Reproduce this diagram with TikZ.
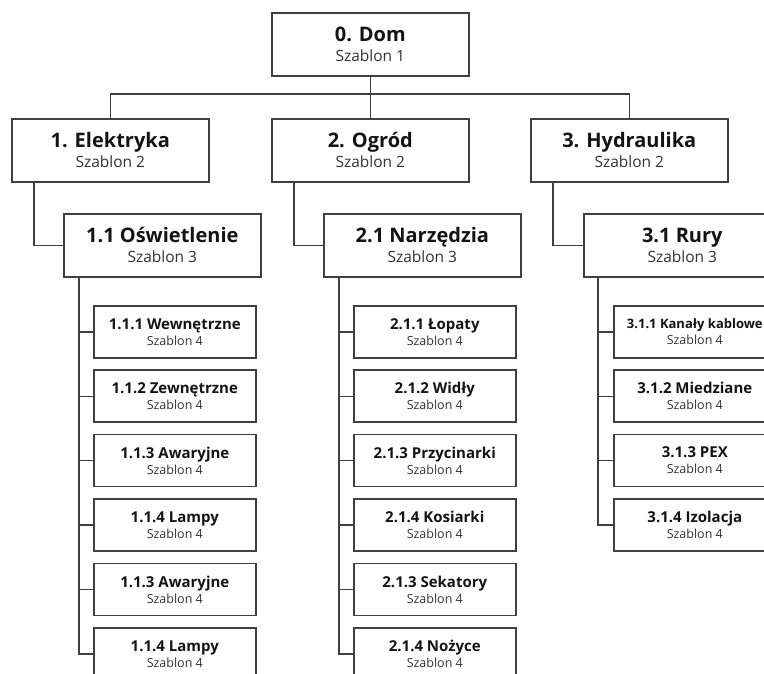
\documentclass[tikz,border=0pt]{standalone}
\usepackage{fontspec}
\setmainfont{Open Sans}
\tikzset{
  bigbox/.style={draw=black!75, line width=1.6pt, fill=white, anchor=north west,
    minimum width=197pt, minimum height=63pt, inner sep=0pt, align=center,
    font=\fontsize{15.5}{20}\selectfont},
  smallbox/.style={draw=black!75, line width=1.6pt, fill=white, anchor=north west,
    minimum width=162pt, minimum height=52pt, inner ysep=0pt, inner xsep=4pt, align=center,
    font=\fontsize{12.5}{16}\selectfont},
  link/.style={draw=black!75, line width=1.4pt},
}
\newcommand{\bigtxt}[2]{{\fontsize{20}{20}\selectfont\bfseries\color{black!92}#1}\\{\color{black!80}#2}}
\newcommand{\smalltxt}[2]{{\fontsize{15}{16}\selectfont\bfseries\color{black!92}#1}\\{\color{black!80}#2}}
\begin{document}
\begin{tikzpicture}[x=1pt, y=-1pt]
  \clip (0,0) rectangle (764,673);
  \fill[white] (0,0) rectangle (764,673);
  % levels 0 and 1
  \node[bigbox] (dom) at (271,12) {\bigtxt{0. Dom}{Szablon 1}};
  \node[bigbox] (elek) at (11,118) {\bigtxt{1. Elektryka}{Szablon 2}};
  \node[bigbox] (ogrod) at (271,118) {\bigtxt{2. Ogród}{Szablon 2}};
  \node[bigbox] (hydr) at (530,118) {\bigtxt{3. Hydraulika}{Szablon 2}};
  % level 2
  \node[bigbox] (osw) at (63,213) {\bigtxt{1.1 Oświetlenie}{Szablon 3}};
  \node[bigbox] (narz) at (323,213) {\bigtxt{2.1 Narzędzia}{Szablon 3}};
  \node[bigbox] (rury) at (583,213) {\bigtxt{3.1 Rury}{Szablon 3}};
  % level 3
  \foreach \txt [count=\i] in {1.1.1 Wewnętrzne, 1.1.2 Zewnętrzne, 1.1.3 Awaryjne,
      1.1.4 Lampy, 1.1.3 Awaryjne, 1.1.4 Lampy}
    \node[smallbox] (e\i) at (93,{305+64.4*(\i-1)}) {\smalltxt{\txt}{Szablon 4}};
  \foreach \txt [count=\i] in {2.1.1 Łopaty, 2.1.2 Widły, 2.1.3 Przycinarki,
      2.1.4 Kosiarki, 2.1.3 Sekatory, 2.1.4 Nożyce}
    \node[smallbox] (o\i) at (353,{305+64.4*(\i-1)}) {\smalltxt{\txt}{Szablon 4}};
  \foreach \txt [count=\i] in {{\fontsize{13}{16}\selectfont 3.1.1 Kanały kablowe},
      3.1.2 Miedziane, 3.1.3 PEX, 3.1.4 Izolacja}
    \node[smallbox] (h\i) at (613,{305+64.4*(\i-1)}) {\smalltxt{\txt}{Szablon 4}};
  % connectors
  \coordinate (top) at (369,94);
  \draw[link] (dom.south) -- (ogrod.north);
  \draw[link] (elek.north) |- (top) -| (hydr.north);
  \draw[link] ([xshift=23pt]elek.south west) |- (osw.west);
  \draw[link] ([xshift=23pt]ogrod.south west) |- (narz.west);
  \draw[link] ([xshift=23pt]hydr.south west) |- (rury.west);
  \coordinate (ebus) at ([xshift=16pt]osw.south west);
  \coordinate (obus) at ([xshift=16pt]narz.south west);
  \coordinate (hbus) at ([xshift=15pt]rury.south west);
  \draw[link] (ebus) |- (e6.west);
  \draw[link] (obus) |- (o6.west);
  \draw[link] (hbus) |- (h4.west);
  \foreach \i in {1,...,5} {
    \draw[link] (e\i.west) -- (e\i.west -| ebus);
    \draw[link] (o\i.west) -- (o\i.west -| obus);
  }
  \foreach \i in {1,...,3}
    \draw[link] (h\i.west) -- (h\i.west -| hbus);
\end{tikzpicture}
\end{document}
